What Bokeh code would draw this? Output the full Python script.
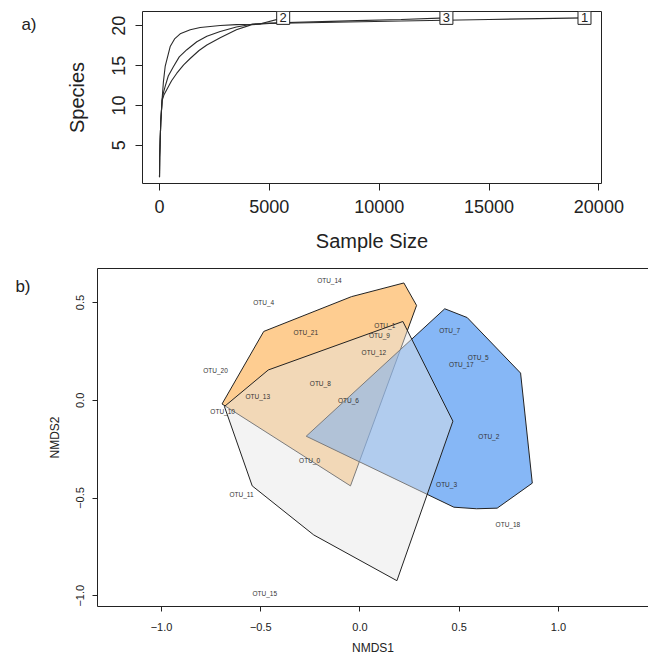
from bokeh.plotting import figure
from bokeh.models import Range1d, FixedTicker, LinearAxis
from bokeh.embed import file_html
from bokeh.resources import INLINE
from bokeh.core.properties import value

FONT = "Liberation Sans"

# ---------------- panel a: rarefaction curves ----------------
curve_names = ["1", "2", "3"]
c1_x = [1, 10, 30, 60, 120, 200, 335, 550, 790, 1100, 1397, 1800, 2156, 2763, 3500, 4200, 5000, 8000, 11000, 15000, 19345]
c1_y = [1, 3.5, 5.5, 8, 10.6, 11.3, 12.0, 13.1, 14.05, 15.1, 15.9, 16.9, 17.6, 18.5, 19.5, 20.15, 20.3, 20.45, 20.6, 20.8, 21]
c2_x = [1, 10, 30, 60, 120, 180, 259, 487, 700, 942, 1400, 1852, 2763, 3500, 4200, 4600, 5630]
c2_y = [1, 3.5, 5.5, 8, 10.8, 13.0, 14.9, 17.4, 18.4, 19.0, 19.5, 19.8, 20.05, 20.15, 20.2, 20.25, 21]
c3_x = [1, 10, 30, 60, 120, 180, 259, 400, 639, 900, 1246, 1700, 2156, 2763, 3500, 4200, 5000, 7000, 9000, 11000, 13060]
c3_y = [1, 3.5, 5.5, 8, 10.7, 11.6, 12.4, 13.7, 14.9, 16.1, 17.0, 18.0, 18.7, 19.3, 19.85, 20.2, 20.35, 20.5, 20.65, 20.8, 21]
a_xticks = [0, 5000, 10000, 15000, 20000]
a_yticks = [5, 10, 15, 20]

# ---------------- panel b: NMDS ----------------
otu_names = ["OTU_14", "OTU_4", "OTU_21", "OTU_20", "OTU_8", "OTU_13", "OTU_6", "OTU_10",
             "OTU_1", "OTU_9", "OTU_12", "OTU_7", "OTU_5", "OTU_17", "OTU_2", "OTU_3",
             "OTU_18", "OTU_0", "OTU_11", "OTU_15"]
otu_x = [-0.154, -0.485, -0.273, -0.728, -0.200, -0.515, -0.058, -0.692,
         0.125, 0.098, 0.070, 0.452, 0.595, 0.510, 0.649, 0.436,
         0.745, -0.254, -0.597, -0.480]
otu_y = [0.613, 0.498, 0.348, 0.152, 0.087, 0.021, -0.003, -0.056,
         0.381, 0.333, 0.244, 0.357, 0.220, 0.184, -0.187, -0.433,
         -0.635, -0.309, -0.483, -0.986]
orange_x = [-0.695, -0.485, -0.043, 0.221, 0.285, -0.048]
orange_y = [-0.019, 0.352, 0.530, 0.600, 0.485, -0.438]
blue_x = [-0.271, 0.427, 0.540, 0.809, 0.868, 0.691, 0.587, 0.473]
blue_y = [-0.184, 0.468, 0.423, 0.139, -0.424, -0.552, -0.555, -0.547]
grey_x = [-0.683, -0.543, -0.233, 0.186, 0.468, 0.216, -0.462]
grey_y = [-0.032, -0.438, -0.689, -0.923, -0.107, 0.403, 0.155]
b_ticks = [-1.0, -0.5, 0.0, 0.5, 1.0]
b_tick_labels = ["\u22121.0", "\u22120.5", "0.0", "0.5", "1.0"]


def style_axis(ax, tick_size, label_size, tick_out, label_standoff, axis_label_standoff):
    ax.major_label_text_font = FONT
    ax.major_label_text_font_size = tick_size
    ax.major_label_text_color = "#222222"
    ax.axis_label_text_font = FONT
    ax.axis_label_text_font_size = label_size
    ax.axis_label_text_font_style = "normal"
    ax.axis_label_text_color = "#222222"
    ax.major_tick_out = tick_out
    ax.major_tick_in = 0
    ax.minor_tick_out = 0
    ax.minor_tick_in = 0
    ax.major_tick_line_color = "#222222"
    ax.major_label_standoff = label_standoff
    ax.axis_label_standoff = axis_label_standoff


def panel_tag(text, standoff, line_height):
    ax = LinearAxis(ticker=FixedTicker(ticks=[]), axis_label="\n" + text, axis_line_color=None,
                    major_tick_out=0, major_tick_in=0, minor_tick_out=0, minor_tick_in=0,
                    major_label_text_font_size="0px", major_label_standoff=0,
                    axis_label_orientation="horizontal", axis_label_align="end",
                    axis_label_standoff=standoff, axis_label_text_font=FONT,
                    axis_label_text_font_size="17px", axis_label_text_font_style="normal",
                    axis_label_text_line_height=line_height,
                    axis_label_text_color="#222222")
    return ax


# ---- panel a figure ----
pa = figure(width=648, height=260, x_range=Range1d(-773, 20119), y_range=Range1d(0.2, 21.8),
            output_backend="svg", toolbar_location=None,
            min_border_left=142, min_border_right=47, min_border_top=11, min_border_bottom=77)
pa.grid.visible = False
pa.outline_line_color = "#222222"
pa.outline_line_alpha = 1
pa.xaxis.ticker = FixedTicker(ticks=a_xticks)
pa.yaxis.ticker = FixedTicker(ticks=a_yticks)
pa.xaxis.axis_label = "Sample Size"
pa.yaxis.axis_label = "Species"
pa.yaxis.major_label_orientation = "vertical"
pa.axis.axis_line_color = None
style_axis(pa.xaxis[0], "18px", "20px", 7, 9, 14)
style_axis(pa.yaxis[0], "18px", "20px", 7, 10, 22)
pa.add_layout(panel_tag("a)", 26, 1.33), "left")

for xs, ys in [(c1_x, c1_y), (c2_x, c2_y), (c3_x, c3_y)]:
    pa.line(xs, ys, line_color="#2a2a2a", line_width=1.1)

end_x = [c1_x[-1], c2_x[-1], c3_x[-1]]
end_y = [c1_y[-1], c2_y[-1], c3_y[-1]]
pa.rect(end_x, end_y, width=13, height=13, width_units="screen", height_units="screen",
        fill_color="white", line_color="#222222", line_width=1)
pa.text(end_x, end_y, text=curve_names, text_align="center", text_baseline="middle",
        text_font=value(FONT), text_font_size="13px", text_color="#222222")

# ---- panel b figure ----
pb = figure(width=648, height=397, x_range=Range1d(-1.3224, 1.4534), y_range=Range1d(-1.055, 0.674),
            output_backend="svg", toolbar_location=None,
            min_border_left=97, min_border_right=0, min_border_top=8, min_border_bottom=44)
pb.grid.visible = False
pb.outline_line_color = None
pb.xaxis.ticker = FixedTicker(ticks=b_ticks)
pb.yaxis.ticker = FixedTicker(ticks=b_ticks)
pb.xaxis.major_label_overrides = dict(zip(b_ticks, b_tick_labels))
pb.yaxis.major_label_overrides = dict(zip(b_ticks, b_tick_labels))
pb.xaxis.axis_label = "NMDS1"
pb.yaxis.axis_label = "NMDS2"
pb.yaxis.major_label_orientation = "vertical"
pb.axis.axis_line_color = "#222222"
style_axis(pb.xaxis[0], "11px", "12px", 5, 11, 7)
style_axis(pb.yaxis[0], "11px", "12px", 5, 8, 12)
pb.add_layout(panel_tag("b)", 14, 1.88), "left")

top = LinearAxis(ticker=FixedTicker(ticks=[]), major_tick_out=0, major_tick_in=0,
                 minor_tick_out=0, minor_tick_in=0, major_label_text_font_size="0px",
                 major_label_standoff=0, axis_line_color="#222222")
pb.add_layout(top, "above")

pb.patch(orange_x, orange_y, fill_color="#FDB863", fill_alpha=0.7, line_color="#222222", line_width=1)
pb.patch(blue_x, blue_y, fill_color="#3C8AF0", fill_alpha=0.62, line_color="#222222", line_width=1)
pb.patch(grey_x, grey_y, fill_color="#E5E5E5", fill_alpha=0.46, line_color="#222222", line_width=1)

pb.text(otu_x, otu_y, text=otu_names, text_align="center", text_baseline="middle",
        text_font=value(FONT), text_font_size="6.5px", text_color="#333333")

open("out.html", "w").write(file_html([pa, pb], INLINE))
